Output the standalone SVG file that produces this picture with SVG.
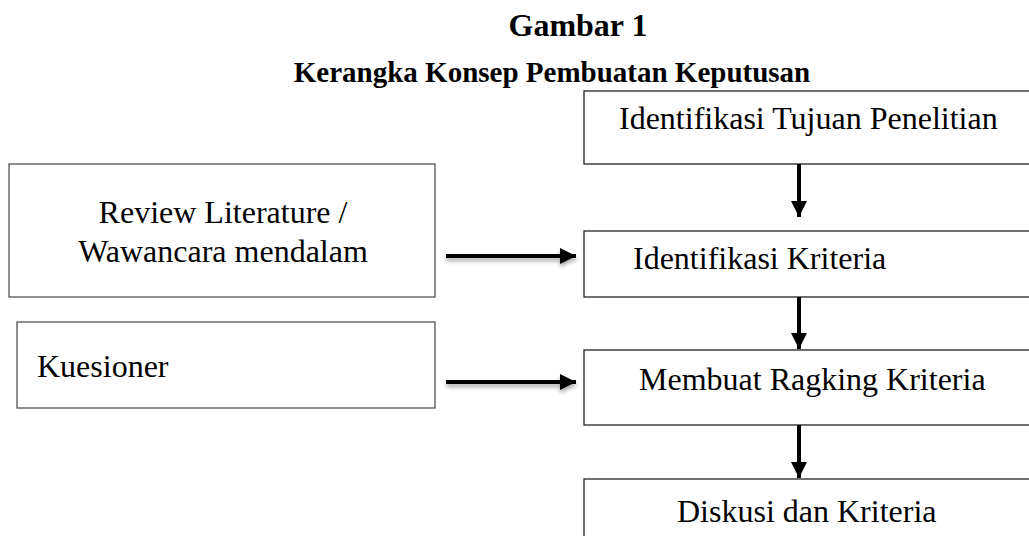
<svg xmlns="http://www.w3.org/2000/svg" width="1029" height="536" viewBox="0 0 1029 536">
  <style>
    .box { fill: #ffffff; stroke: #222222; stroke-width: 1.3; }
    .lbox { fill: #ffffff; stroke: #444444; stroke-width: 1.2; }
    .t { font-family: "Liberation Serif", "Times New Roman", serif; font-size: 32px; fill: #000000; }
    .title { font-family: "Liberation Serif", "Times New Roman", serif; font-weight: bold; fill: #000000; }
    .conn { stroke: #000000; stroke-width: 4; fill: none; }
  </style>
  <defs>
    <marker id="ah" viewBox="0 0 10 10" refX="10" refY="5" markerWidth="4" markerHeight="4" markerUnits="strokeWidth" orient="auto">
      <path d="M0,0 L10,5 L0,10 Z" fill="#000000"/>
    </marker>
    <filter id="sh" filterUnits="userSpaceOnUse" x="420" y="220" width="180" height="200">
      <feDropShadow dx="0" dy="3" stdDeviation="2" flood-color="#000000" flood-opacity="0.35"/>
    </filter>
  </defs>

  <g id="title">
    <text class="title" x="578" y="36" text-anchor="middle" font-size="32">Gambar 1</text>
    <text class="title" x="552" y="82" text-anchor="middle" font-size="29">Kerangka Konsep Pembuatan Keputusan</text>
  </g>

  <g id="node-tujuan">
    <rect class="box" x="584" y="91" width="460" height="73"/>
    <text class="t" x="619" y="129">Identifikasi Tujuan Penelitian</text>
  </g>
  <g id="node-kriteria">
    <rect class="box" x="584" y="231" width="460" height="66"/>
    <text class="t" x="633" y="269">Identifikasi Kriteria</text>
  </g>
  <g id="node-ranking">
    <rect class="box" x="584" y="350" width="460" height="75"/>
    <text class="t" x="639" y="390">Membuat Ragking Kriteria</text>
  </g>
  <g id="node-diskusi">
    <rect class="box" x="584" y="479" width="460" height="80"/>
    <text class="t" x="677" y="522">Diskusi dan Kriteria</text>
  </g>
  <g id="node-review">
    <rect class="lbox" x="9" y="164" width="426" height="133"/>
    <text class="t" x="223" y="223" text-anchor="middle">Review Literature /</text>
    <text class="t" x="223" y="262" text-anchor="middle">Wawancara mendalam</text>
  </g>
  <g id="node-kuesioner">
    <rect class="lbox" x="17" y="322" width="418" height="86"/>
    <text class="t" x="37" y="377">Kuesioner</text>
  </g>

  <g id="connectors">
    <line class="conn" x1="799" y1="164" x2="799" y2="217" marker-end="url(#ah)"/>
    <line class="conn" x1="799" y1="297" x2="799" y2="349" marker-end="url(#ah)"/>
    <line class="conn" x1="799" y1="425" x2="799" y2="478" marker-end="url(#ah)"/>
    <g filter="url(#sh)">
      <line class="conn" x1="446" y1="256" x2="576" y2="256" marker-end="url(#ah)"/>
      <line class="conn" x1="446" y1="382" x2="576" y2="382" marker-end="url(#ah)"/>
    </g>
  </g>
</svg>
